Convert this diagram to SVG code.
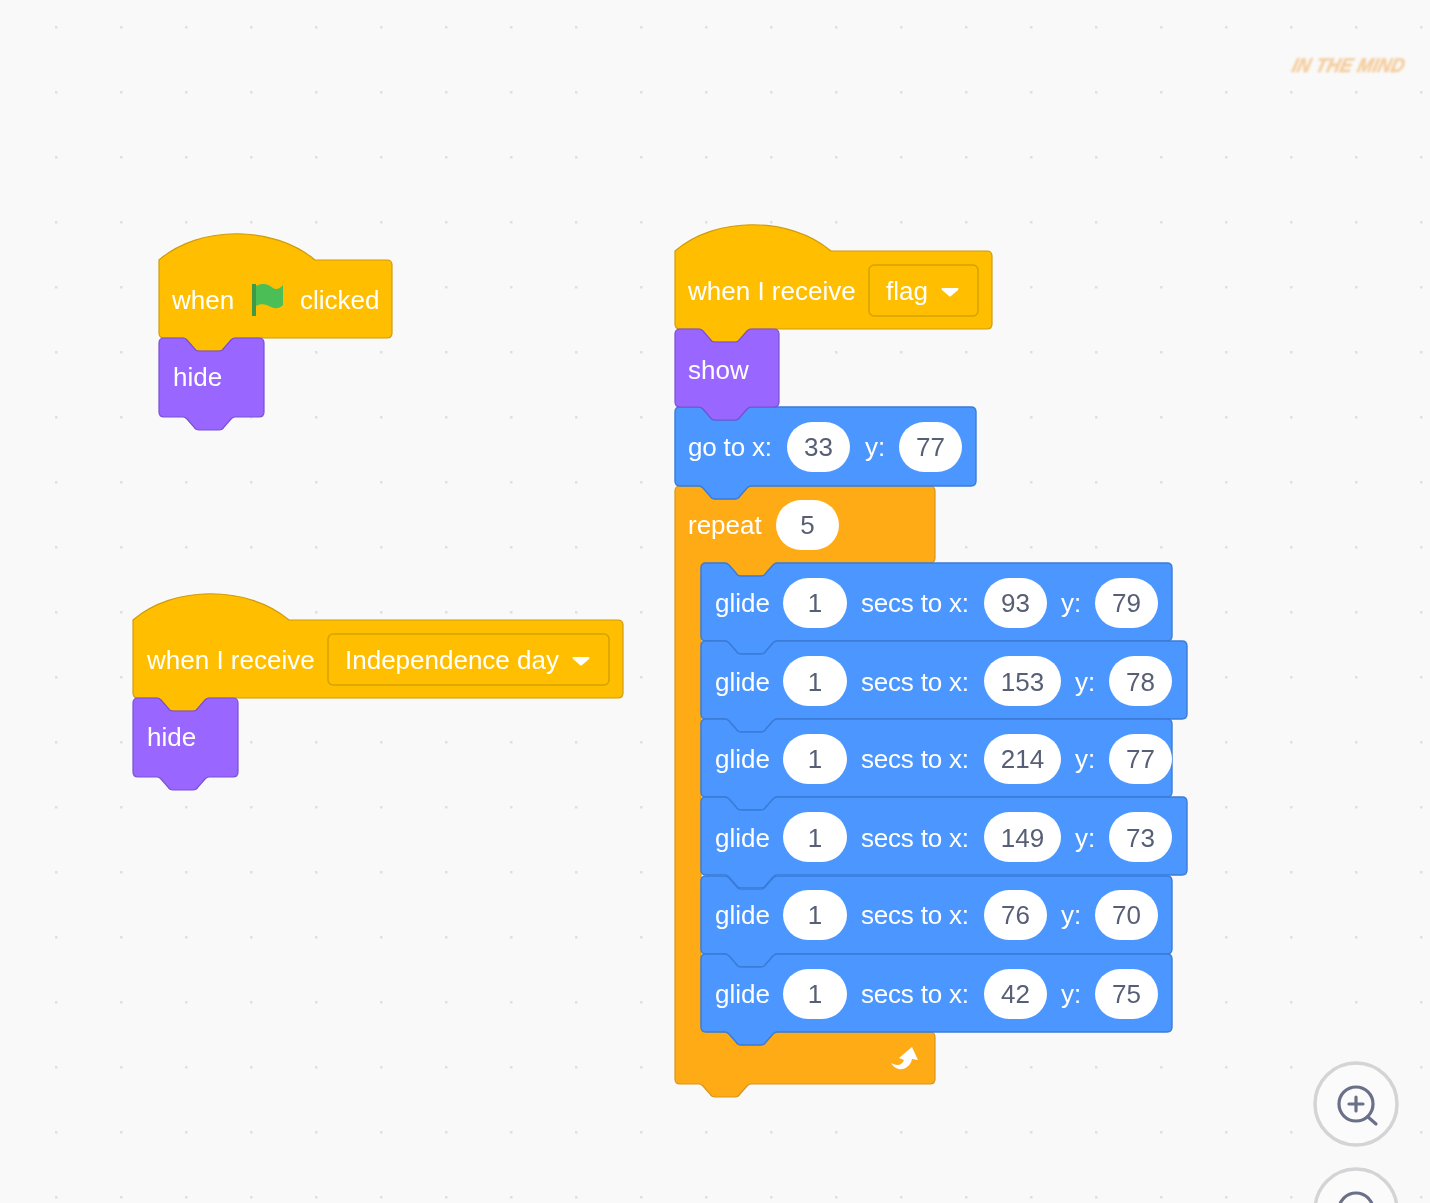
<svg xmlns="http://www.w3.org/2000/svg" width="1430" height="1203" viewBox="0 0 1430 1203">
<style>
text{font-family:"Liberation Sans",Arial,sans-serif;font-size:26px;fill:#fff}
.num{fill:#575e75;text-anchor:middle}
.hat{fill:#ffbf00;stroke:#cf9c0c;stroke-width:1.2}
.look{fill:#9966ff;stroke:#7a50d0;stroke-width:1.2}
.mot{fill:#4c97ff;stroke:#3a7cd6;stroke-width:1.4}
.ctl{fill:#ffab19;stroke:#d8951c;stroke-width:1.2}
.dd{fill:#ffbf00;stroke:#d6a206;stroke-width:1.5}
.arrow{fill:#fff}
.oval{fill:#fff}
.ring{fill:#fbfbfc;stroke:#d4d4d6;stroke-width:3.5}
.glass{fill:none;stroke:#6b7088;stroke-width:3.2;stroke-linecap:round}
</style>
<defs>
<pattern id="dots" x="56" y="27" width="65" height="65" patternUnits="userSpaceOnUse">
<rect x="-1" y="-1" width="2.500" height="2.500" fill="#e0e0e0"/><rect x="64" y="-1" width="2.500" height="2.500" fill="#e0e0e0"/><rect x="-1" y="64" width="2.500" height="2.500" fill="#e0e0e0"/><rect x="64" y="64" width="2.500" height="2.500" fill="#e0e0e0"/>
</pattern>
<path id="glideS" class="mot" d="M701 5q0-5 5-5H725c2 0 3 1 4 2l7 8c1 2 3 3 5 3h20c2 0 4-1 5-3l7-8c1-1 2-2 4-2H1167q5 0 5 5V73q0 5-5 5H777c-2 0-3 1-4 2l-7 8c-1 2-3 3-5 3h-20c-2 0-4-1-5-3l-7-8c-1-1-2-2-4-2H706q-5 0-5-5Z"/>
<path id="glideL" class="mot" d="M701 5q0-5 5-5H725c2 0 3 1 4 2l7 8c1 2 3 3 5 3h20c2 0 4-1 5-3l7-8c1-1 2-2 4-2H1182q5 0 5 5V73q0 5-5 5H777c-2 0-3 1-4 2l-7 8c-1 2-3 3-5 3h-20c-2 0-4-1-5-3l-7-8c-1-1-2-2-4-2H706q-5 0-5-5Z"/>
<filter id="soft" filterUnits="userSpaceOnUse" x="0" y="0" width="1430" height="1203"><feGaussianBlur stdDeviation="0.55"/></filter>
<filter id="softer" filterUnits="userSpaceOnUse" x="1270" y="40" width="160" height="50"><feGaussianBlur stdDeviation="0.9"/></filter>
</defs>
<rect id="background" width="1430" height="1203" fill="#f9f9f9"/>
<g id="canvas" filter="url(#soft)">
<rect id="grid" width="1430" height="1203" fill="url(#dots)"/>

<g id="watermark" filter="url(#softer)"><text transform="translate(1291 72) skewX(-14)" style="font-size:20px;font-weight:bold;font-style:italic;fill:#f5cfa0;stroke:#f5cfa0;stroke-width:.6" textLength="112" lengthAdjust="spacingAndGlyphs">IN THE MIND</text></g>

<g id="stack-flag">
<g id="when-flag-clicked">
<path class="hat" d="M159 260c40-35 115-35 156 0H387q5 0 5 5V333q0 5-5 5H235c-2 0-3 1-4 2l-7 8c-1 2-3 3-5 3h-20c-2 0-4-1-5-3l-7-8c-1-1-2-2-4-2H164q-5 0-5-5Z"/>
<text x="172" y="309">when</text>
<path d="M252 284H256V316H252Z" fill="#3f9a45"/>
<path d="M256 286c8-4 13-1 17 2c3 2 7 1 10-3V305c-4 4-8 4-12 2c-5-3-10-4-15-1Z" fill="#4cbf56"/>
<text x="300" y="309">clicked</text>
</g>
<g id="hide-1">
<path class="look" d="M159 343q0-5 5-5H183c2 0 3 1 4 2l7 8c1 2 3 3 5 3h20c2 0 4-1 5-3l7-8c1-1 2-2 4-2H259q5 0 5 5V412q0 5-5 5H235c-2 0-3 1-4 2l-7 8c-1 2-3 3-5 3h-20c-2 0-4-1-5-3l-7-8c-1-1-2-2-4-2H164q-5 0-5-5Z"/>
<text x="173" y="386">hide</text>
</g>
</g>

<g id="stack-independence">
<g id="when-receive-independence">
<path class="hat" d="M133 620c40-35 115-35 156 0H618q5 0 5 5V693q0 5-5 5H209c-2 0-3 1-4 2l-7 8c-1 2-3 3-5 3h-20c-2 0-4-1-5-3l-7-8c-1-1-2-2-4-2H138q-5 0-5-5Z"/>
<text x="147" y="669">when I receive</text>
<rect class="dd" x="328" y="634" width="281" height="51" rx="5"/>
<text x="345" y="669">Independence day</text>
<path class="arrow" d="M573 657H589Q590 658 589 659L582 665Q581 666 580 665L573 659Q572 658 573 657Z"/>
</g>
<g id="hide-2">
<path class="look" d="M133 703q0-5 5-5H157c2 0 3 1 4 2l7 8c1 2 3 3 5 3h20c2 0 4-1 5-3l7-8c1-1 2-2 4-2H233q5 0 5 5V772q0 5-5 5H209c-2 0-3 1-4 2l-7 8c-1 2-3 3-5 3h-20c-2 0-4-1-5-3l-7-8c-1-1-2-2-4-2H138q-5 0-5-5Z"/>
<text x="147" y="746">hide</text>
</g>
</g>

<g id="stack-receive-flag">
<g id="repeat-block">
<path class="ctl" d="M675 491q0-5 5-5H699c2 0 3 1 4 2l7 8c1 2 3 3 5 3h20c2 0 4-1 5-3l7-8c1-1 2-2 4-2H930q5 0 5 5V558q0 5-5 5H777c-2 0-3 1-4 2l-7 8c-1 2-3 3-5 3h-20c-2 0-4-1-5-3l-7-8c-1-1-2-2-4-2H706q-5 0-5 5V1027q0 5 5 5H725c2 0 3 1 4 2l7 8c1 2 3 3 5 3h20c2 0 4-1 5-3l7-8c1-1 2-2 4-2H930q5 0 5 5V1079q0 5-5 5H751c-2 0-3 1-4 2l-7 8c-1 2-3 3-5 3h-20c-2 0-4-1-5-3l-7-8c-1-1-2-2-4-2H680q-5 0-5-5Z"/>
<text x="688" y="534">repeat</text>
<rect class="oval" x="776" y="500" width="63" height="50" rx="25"/>
<text class="num" x="807.500" y="534">5</text>
<path class="arrow" d="M891 1063c5 3 11 3 13-3l-5-2 13-11 6 13-6-1c-2 10-14 15-21 4Z"/>
</g>
<g id="when-receive-flag">
<path class="hat" d="M675 251c40-35 115-35 156 0H987q5 0 5 5V324q0 5-5 5H751c-2 0-3 1-4 2l-7 8c-1 2-3 3-5 3h-20c-2 0-4-1-5-3l-7-8c-1-1-2-2-4-2H680q-5 0-5-5Z"/>
<text x="688" y="300">when I receive</text>
<rect class="dd" x="869" y="265" width="109" height="51" rx="5"/>
<text x="886" y="300">flag</text>
<path class="arrow" d="M942 288H958Q959 289 958 290L951 296Q950 297 949 296L942 290Q941 289 942 288Z"/>
</g>
<g id="go-to">
<path class="mot" d="M675 412q0-5 5-5H699c2 0 3 1 4 2l7 8c1 2 3 3 5 3h20c2 0 4-1 5-3l7-8c1-1 2-2 4-2H971q5 0 5 5V481q0 5-5 5H751c-2 0-3 1-4 2l-7 8c-1 2-3 3-5 3h-20c-2 0-4-1-5-3l-7-8c-1-1-2-2-4-2H680q-5 0-5-5Z"/>
<text x="688" y="456" textLength="84">go to x:</text>
<rect class="oval" x="787" y="422" width="63" height="50" rx="25"/>
<text class="num" x="818.500" y="456">33</text>
<text x="865" y="456">y:</text>
<rect class="oval" x="899" y="422" width="63" height="50" rx="25"/>
<text class="num" x="930.500" y="456">77</text>
</g>
<g id="show">
<path class="look" d="M675 334q0-5 5-5H699c2 0 3 1 4 2l7 8c1 2 3 3 5 3h20c2 0 4-1 5-3l7-8c1-1 2-2 4-2H774q5 0 5 5V402q0 5-5 5H751c-2 0-3 1-4 2l-7 8c-1 2-3 3-5 3h-20c-2 0-4-1-5-3l-7-8c-1-1-2-2-4-2H680q-5 0-5-5Z"/>
<text x="688" y="379">show</text>
</g>
<g id="glide-1">
<use href="#glideS" y="563"/>
<text x="715" y="612">glide</text>
<rect class="oval" x="783" y="578" width="64" height="50" rx="25"/><text class="num" x="815" y="612">1</text>
<text x="861" y="612" textLength="108">secs to x:</text>
<rect class="oval" x="984" y="578" width="63" height="50" rx="25"/><text class="num" x="1015.500" y="612">93</text>
<text x="1061" y="612">y:</text>
<rect class="oval" x="1095" y="578" width="63" height="50" rx="25"/><text class="num" x="1126.500" y="612">79</text>
</g>
<g id="glide-2">
<use href="#glideL" y="641"/>
<text x="715" y="691">glide</text>
<rect class="oval" x="783" y="656" width="64" height="50" rx="25"/><text class="num" x="815" y="691">1</text>
<text x="861" y="691" textLength="108">secs to x:</text>
<rect class="oval" x="984" y="656" width="77" height="50" rx="25"/><text class="num" x="1022.500" y="691">153</text>
<text x="1075" y="691">y:</text>
<rect class="oval" x="1109" y="656" width="63" height="50" rx="25"/><text class="num" x="1140.500" y="691">78</text>
</g>
<g id="glide-3">
<use href="#glideS" y="719"/>
<text x="715" y="768">glide</text>
<rect class="oval" x="783" y="734" width="64" height="50" rx="25"/><text class="num" x="815" y="768">1</text>
<text x="861" y="768" textLength="108">secs to x:</text>
<rect class="oval" x="984" y="734" width="77" height="50" rx="25"/><text class="num" x="1022.500" y="768">214</text>
<text x="1075" y="768">y:</text>
<rect class="oval" x="1109" y="734" width="63" height="50" rx="25"/><text class="num" x="1140.500" y="768">77</text>
</g>
<g id="glide-4">
<use href="#glideL" y="797"/>
<text x="715" y="847">glide</text>
<rect class="oval" x="783" y="812" width="64" height="50" rx="25"/><text class="num" x="815" y="847">1</text>
<text x="861" y="847" textLength="108">secs to x:</text>
<rect class="oval" x="984" y="812" width="77" height="50" rx="25"/><text class="num" x="1022.500" y="847">149</text>
<text x="1075" y="847">y:</text>
<rect class="oval" x="1109" y="812" width="63" height="50" rx="25"/><text class="num" x="1140.500" y="847">73</text>
</g>
<g id="glide-5">
<use href="#glideS" y="876"/>
<text x="715" y="924">glide</text>
<rect class="oval" x="783" y="890" width="64" height="50" rx="25"/><text class="num" x="815" y="924">1</text>
<text x="861" y="924" textLength="108">secs to x:</text>
<rect class="oval" x="984" y="890" width="63" height="50" rx="25"/><text class="num" x="1015.500" y="924">76</text>
<text x="1061" y="924">y:</text>
<rect class="oval" x="1095" y="890" width="63" height="50" rx="25"/><text class="num" x="1126.500" y="924">70</text>
</g>
<g id="glide-6">
<use href="#glideS" y="954"/>
<text x="715" y="1003">glide</text>
<rect class="oval" x="783" y="969" width="64" height="50" rx="25"/><text class="num" x="815" y="1003">1</text>
<text x="861" y="1003" textLength="108">secs to x:</text>
<rect class="oval" x="984" y="969" width="63" height="50" rx="25"/><text class="num" x="1015.500" y="1003">42</text>
<text x="1061" y="1003">y:</text>
<rect class="oval" x="1095" y="969" width="63" height="50" rx="25"/><text class="num" x="1126.500" y="1003">75</text>
</g>
</g>

<g id="zoom-in">
<circle class="ring" cx="1356" cy="1104" r="41"/>
<circle class="glass" cx="1356" cy="1104" r="17"/>
<path class="glass" d="M1368 1117L1376 1124M1349 1104H1363M1356 1097V1111"/>
</g>
<g id="zoom-out">
<circle class="ring" cx="1356" cy="1210" r="41"/>
<circle class="glass" cx="1356" cy="1210" r="17"/>
</g>
</g>
</svg>
